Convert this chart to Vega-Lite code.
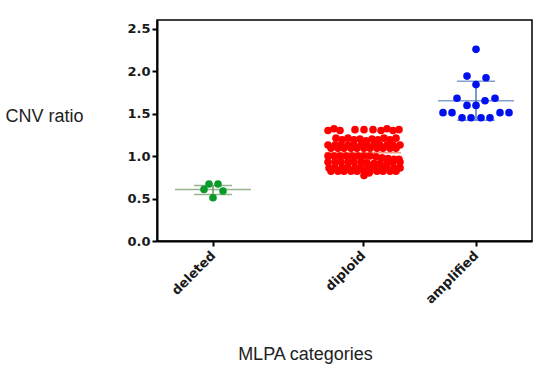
{
  "$schema": "https://vega.github.io/schema/vega-lite/v6.json",
  "width": 375,
  "height": 221,
  "autosize": "none",
  "padding": {"left": 157, "top": 20, "right": 18, "bottom": 135},
  "background": "white",
  "config": {
    "view": {"stroke": "black", "strokeWidth": 1.5},
    "axis": {
      "grid": false,
      "domainColor": "black",
      "domainWidth": 2,
      "tickColor": "black",
      "tickWidth": 2,
      "tickSize": 5,
      "labelColor": "#1a1a1a",
      "labelFont": "DejaVu Sans",
      "labelFontWeight": "bold",
      "labelFontSize": 13,
      "titleFont": "Liberation Sans",
      "titleFontWeight": "normal",
      "titleFontSize": 18,
      "titleColor": "#222"
    }
  },
  "datasets": {
    "points": [
      {"group": "deleted", "x": 52, "ratio": 0.671},
      {"group": "deleted", "x": 61, "ratio": 0.671},
      {"group": "deleted", "x": 47, "ratio": 0.607},
      {"group": "deleted", "x": 66, "ratio": 0.588},
      {"group": "deleted", "x": 56, "ratio": 0.509},

      {"group": "diploid", "x": 171, "ratio": 1.30},
      {"group": "diploid", "x": 177, "ratio": 1.32},
      {"group": "diploid", "x": 183, "ratio": 1.30},
      {"group": "diploid", "x": 198, "ratio": 1.31},
      {"group": "diploid", "x": 207, "ratio": 1.31},
      {"group": "diploid", "x": 216, "ratio": 1.31},
      {"group": "diploid", "x": 224, "ratio": 1.30},
      {"group": "diploid", "x": 230, "ratio": 1.32},
      {"group": "diploid", "x": 236, "ratio": 1.30},
      {"group": "diploid", "x": 242, "ratio": 1.31},

      {"group": "diploid", "x": 179, "ratio": 1.21},
      {"group": "diploid", "x": 185, "ratio": 1.19},
      {"group": "diploid", "x": 191, "ratio": 1.21},
      {"group": "diploid", "x": 197, "ratio": 1.19},
      {"group": "diploid", "x": 203, "ratio": 1.20},
      {"group": "diploid", "x": 209, "ratio": 1.18},
      {"group": "diploid", "x": 215, "ratio": 1.20},
      {"group": "diploid", "x": 221, "ratio": 1.19},
      {"group": "diploid", "x": 227, "ratio": 1.21},
      {"group": "diploid", "x": 233, "ratio": 1.19},
      {"group": "diploid", "x": 239, "ratio": 1.21},

      {"group": "diploid", "x": 171, "ratio": 1.13},
      {"group": "diploid", "x": 178, "ratio": 1.13},
      {"group": "diploid", "x": 184, "ratio": 1.13},
      {"group": "diploid", "x": 191, "ratio": 1.13},
      {"group": "diploid", "x": 197, "ratio": 1.13},
      {"group": "diploid", "x": 204, "ratio": 1.13},
      {"group": "diploid", "x": 210, "ratio": 1.13},
      {"group": "diploid", "x": 217, "ratio": 1.13},
      {"group": "diploid", "x": 223, "ratio": 1.13},
      {"group": "diploid", "x": 230, "ratio": 1.13},
      {"group": "diploid", "x": 236, "ratio": 1.13},
      {"group": "diploid", "x": 243, "ratio": 1.13},

      {"group": "diploid", "x": 174, "ratio": 1.09},
      {"group": "diploid", "x": 181, "ratio": 1.09},
      {"group": "diploid", "x": 187, "ratio": 1.09},
      {"group": "diploid", "x": 194, "ratio": 1.09},
      {"group": "diploid", "x": 200, "ratio": 1.09},
      {"group": "diploid", "x": 207, "ratio": 1.09},
      {"group": "diploid", "x": 213, "ratio": 1.09},
      {"group": "diploid", "x": 220, "ratio": 1.09},
      {"group": "diploid", "x": 226, "ratio": 1.09},
      {"group": "diploid", "x": 233, "ratio": 1.09},
      {"group": "diploid", "x": 239, "ratio": 1.09},

      {"group": "diploid", "x": 171, "ratio": 1.00},
      {"group": "diploid", "x": 177, "ratio": 1.00},
      {"group": "diploid", "x": 183, "ratio": 1.00},
      {"group": "diploid", "x": 189, "ratio": 1.00},
      {"group": "diploid", "x": 195, "ratio": 1.00},
      {"group": "diploid", "x": 201, "ratio": 1.00},
      {"group": "diploid", "x": 207, "ratio": 1.00},
      {"group": "diploid", "x": 213, "ratio": 1.00},
      {"group": "diploid", "x": 219, "ratio": 0.99},
      {"group": "diploid", "x": 225, "ratio": 0.98},
      {"group": "diploid", "x": 231, "ratio": 0.97},
      {"group": "diploid", "x": 237, "ratio": 0.96},
      {"group": "diploid", "x": 242, "ratio": 0.96},

      {"group": "diploid", "x": 171, "ratio": 0.93},
      {"group": "diploid", "x": 178, "ratio": 0.93},
      {"group": "diploid", "x": 184, "ratio": 0.93},
      {"group": "diploid", "x": 191, "ratio": 0.93},
      {"group": "diploid", "x": 197, "ratio": 0.93},
      {"group": "diploid", "x": 204, "ratio": 0.93},
      {"group": "diploid", "x": 210, "ratio": 0.92},
      {"group": "diploid", "x": 217, "ratio": 0.91},
      {"group": "diploid", "x": 223, "ratio": 0.91},
      {"group": "diploid", "x": 230, "ratio": 0.92},
      {"group": "diploid", "x": 236, "ratio": 0.93},
      {"group": "diploid", "x": 243, "ratio": 0.93},

      {"group": "diploid", "x": 172, "ratio": 0.86},
      {"group": "diploid", "x": 178, "ratio": 0.86},
      {"group": "diploid", "x": 185, "ratio": 0.86},
      {"group": "diploid", "x": 191, "ratio": 0.86},
      {"group": "diploid", "x": 198, "ratio": 0.86},
      {"group": "diploid", "x": 204, "ratio": 0.86},
      {"group": "diploid", "x": 211, "ratio": 0.87},
      {"group": "diploid", "x": 217, "ratio": 0.88},
      {"group": "diploid", "x": 224, "ratio": 0.88},
      {"group": "diploid", "x": 230, "ratio": 0.87},
      {"group": "diploid", "x": 237, "ratio": 0.86},
      {"group": "diploid", "x": 243, "ratio": 0.86},

      {"group": "diploid", "x": 174, "ratio": 0.82},
      {"group": "diploid", "x": 181, "ratio": 0.82},
      {"group": "diploid", "x": 187, "ratio": 0.82},
      {"group": "diploid", "x": 194, "ratio": 0.82},
      {"group": "diploid", "x": 200, "ratio": 0.82},
      {"group": "diploid", "x": 207, "ratio": 0.82},
      {"group": "diploid", "x": 213, "ratio": 0.82},
      {"group": "diploid", "x": 220, "ratio": 0.82},
      {"group": "diploid", "x": 226, "ratio": 0.82},
      {"group": "diploid", "x": 233, "ratio": 0.82},
      {"group": "diploid", "x": 239, "ratio": 0.82},
      {"group": "diploid", "x": 212, "ratio": 0.80},
      {"group": "diploid", "x": 207, "ratio": 0.77},

      {"group": "amplified", "x": 319, "ratio": 2.255},
      {"group": "amplified", "x": 310, "ratio": 1.94},
      {"group": "amplified", "x": 329, "ratio": 1.92},
      {"group": "amplified", "x": 319, "ratio": 1.84},
      {"group": "amplified", "x": 300, "ratio": 1.68},
      {"group": "amplified", "x": 328, "ratio": 1.65},
      {"group": "amplified", "x": 338, "ratio": 1.68},
      {"group": "amplified", "x": 310, "ratio": 1.595},
      {"group": "amplified", "x": 319, "ratio": 1.595},
      {"group": "amplified", "x": 286, "ratio": 1.51},
      {"group": "amplified", "x": 295, "ratio": 1.51},
      {"group": "amplified", "x": 343, "ratio": 1.51},
      {"group": "amplified", "x": 352, "ratio": 1.51},
      {"group": "amplified", "x": 305, "ratio": 1.45},
      {"group": "amplified", "x": 314, "ratio": 1.45},
      {"group": "amplified", "x": 324, "ratio": 1.45},
      {"group": "amplified", "x": 333, "ratio": 1.45}
    ],
    "summary": [
      {"group": "deleted", "x": 56, "mean": 0.607, "lo": 0.546, "hi": 0.653},
      {"group": "diploid", "x": 206, "mean": 1.037, "lo": 0.90, "hi": 1.18},
      {"group": "amplified", "x": 319, "mean": 1.65, "lo": 1.42, "hi": 1.88}
    ]
  },
  "encoding": {
    "x": {
      "field": "x",
      "type": "quantitative",
      "scale": {"domain": [0, 375]},
      "axis": {
        "values": [56, 206, 319],
        "labelExpr": "datum.value == 56 ? 'deleted' : datum.value == 206 ? 'diploid' : 'amplified'",
        "labelAngle": -45,
        "labelAlign": "right",
        "labelBaseline": "middle",
        "labelPadding": 7,
        "title": "MLPA categories",
        "titleX": 148,
        "titleY": 118,
        "titleAlign": "center",
        "titleBaseline": "alphabetic"
      }
    }
  },
  "layer": [
    {
      "data": {"name": "summary"},
      "mark": {"type": "rule", "strokeWidth": 1.5},
      "encoding": {
        "y": {"field": "lo", "type": "quantitative"},
        "y2": {"field": "hi"},
        "color": {"field": "group", "type": "nominal", "legend": null,
          "scale": {"domain": ["deleted", "diploid", "amplified"], "range": ["#6f9460", "#f07050", "#4f77b8"]}}
      }
    },
    {
      "data": {"name": "summary"},
      "mark": {"type": "tick", "orient": "horizontal", "size": 38, "thickness": 1.5},
      "encoding": {
        "y": {"field": "lo", "type": "quantitative"},
        "color": {"field": "group", "type": "nominal", "legend": null}
      }
    },
    {
      "data": {"name": "summary"},
      "mark": {"type": "tick", "orient": "horizontal", "size": 38, "thickness": 1.5},
      "encoding": {
        "y": {"field": "hi", "type": "quantitative"},
        "color": {"field": "group", "type": "nominal", "legend": null}
      }
    },
    {
      "data": {"name": "summary"},
      "mark": {"type": "tick", "orient": "horizontal", "size": 76, "thickness": 1.5},
      "encoding": {
        "y": {"field": "mean", "type": "quantitative"},
        "color": {"field": "group", "type": "nominal", "legend": null}
      }
    },
    {
      "data": {"name": "points"},
      "mark": {"type": "circle", "size": 58, "opacity": 1},
      "encoding": {
        "y": {
          "field": "ratio",
          "type": "quantitative",
          "scale": {"domain": [0, 2.5]},
          "axis": {
            "values": [0, 0.5, 1, 1.5, 2, 2.5],
            "format": ".1f",
            "labelPadding": 2,
            "title": "CNV ratio",
            "titleAngle": 0,
            "titleAlign": "left",
            "titleBaseline": "middle",
            "titleX": -152,
            "titleY": 96
          }
        },
        "fill": {"field": "group", "type": "nominal", "legend": null,
          "scale": {"domain": ["deleted", "diploid", "amplified"], "range": ["#0a9a2a", "#ff0000", "#0010ee"]}}
      }
    }
  ]
}
